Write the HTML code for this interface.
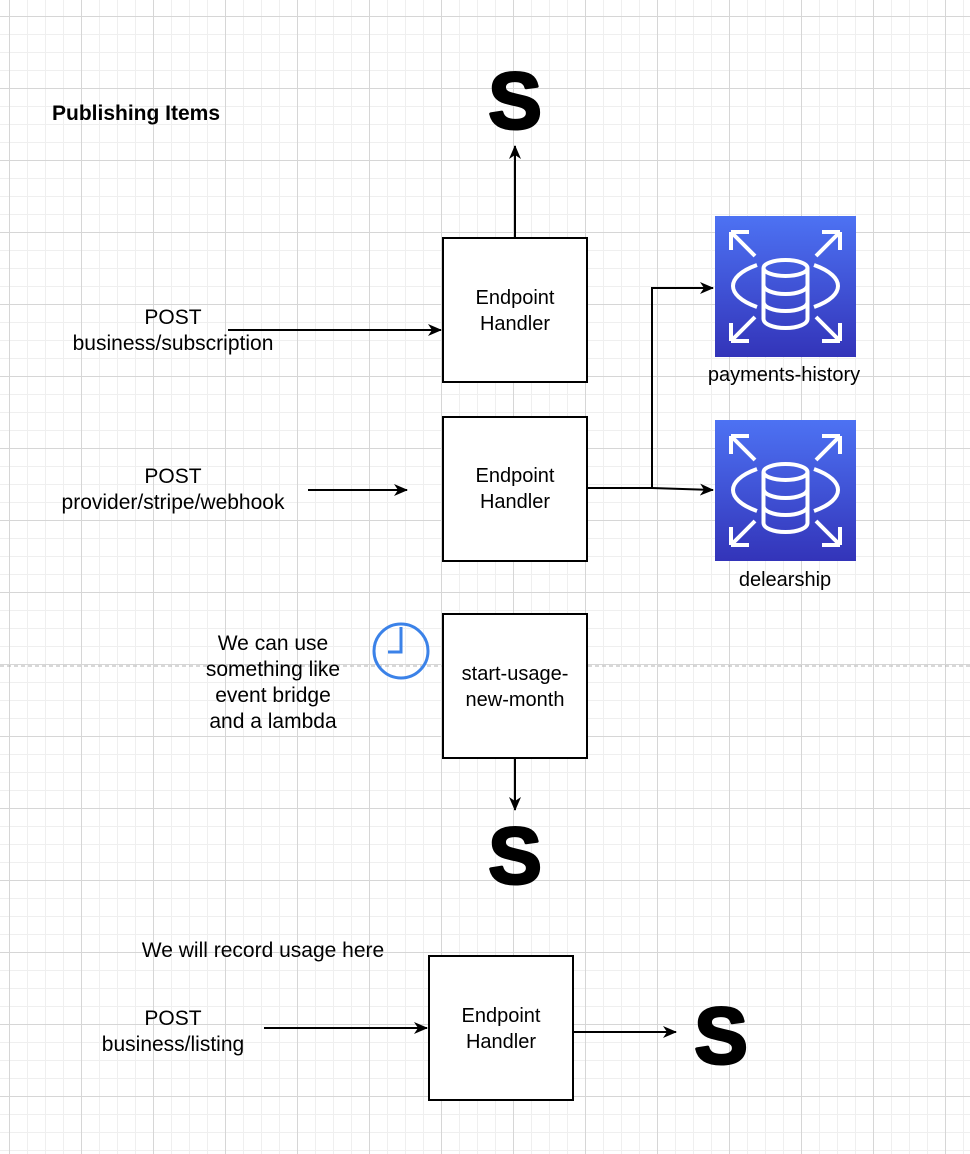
<!DOCTYPE html>
<html><head><meta charset="utf-8"><style>
html,body{margin:0;padding:0;background:#fff}
svg{display:block}
text{font-family:"Liberation Sans",Arial,sans-serif;fill:#000}
</style></head><body>
<svg width="970" height="1154" viewBox="0 0 970 1154" xmlns="http://www.w3.org/2000/svg">
<defs>
<pattern id="minor" x="9" y="16" width="18" height="18" patternUnits="userSpaceOnUse">
<path d="M0 0.5H18M0.5 0V18" stroke="#efefef" stroke-width="1" fill="none"/>
</pattern>
<pattern id="major" x="9" y="16" width="72" height="72" patternUnits="userSpaceOnUse">
<path d="M0 0.5H72M0.5 0V72" stroke="#d6d6d6" stroke-width="1" fill="none"/>
</pattern>
<linearGradient id="db" x1="0" y1="0" x2="0" y2="1">
<stop offset="0" stop-color="#4d72f3"/><stop offset="1" stop-color="#3334b9"/>
</linearGradient>
<marker id="ah" markerWidth="14" markerHeight="12" refX="13" refY="6" orient="auto" markerUnits="userSpaceOnUse">
<path d="M0 0L14 6L0 12L4 6Z" fill="#000"/>
</marker>
<g id="dbicon">
<rect width="141" height="141" fill="url(#db)"/>
<g stroke="#fff" stroke-width="4" fill="none" stroke-linecap="butt">
<path d="M16 16L40 40M16 16H34M16 16V34"/>
<path d="M125 16L101 40M125 16H107M125 16V34"/>
<path d="M16 125L40 101M16 125H34M16 125V107"/>
<path d="M125 125L101 101M125 125H107M125 125V107"/>
<path d="M42 49C25 55 18 63 18 70C18 77 25 85 42 91"/>
<path d="M99 49C116 55 123 63 123 70C123 77 116 85 99 91"/>
<ellipse cx="70.5" cy="52" rx="22" ry="8"/>
<path d="M48.5 52V103C48.5 108 58 112 70.5 112C83 112 92.5 108 92.5 103V52"/>
<path d="M48.5 69C48.5 74 58 78 70.5 78C83 78 92.5 74 92.5 69"/>
<path d="M48.5 86C48.5 91 58 95 70.5 95C83 95 92.5 91 92.5 86"/>
</g>
</g>
</defs>
<rect width="970" height="1154" fill="url(#minor)"/>
<rect width="970" height="1154" fill="url(#major)"/>
<line x1="0" y1="666" x2="970" y2="666" stroke="#b0b0b0" stroke-width="1" stroke-dasharray="4 3"/>

<text x="52" y="120" font-size="21" font-weight="bold">Publishing Items</text>

<!-- S logos -->
<g font-size="80" font-weight="bold" text-anchor="middle" stroke="#000" stroke-width="3" stroke-linejoin="round">
<text x="515" y="128">S</text>
<text x="515" y="883">S</text>
<text x="721" y="1063">S</text>
</g>

<!-- boxes -->
<g fill="#fff" stroke="#000" stroke-width="2">
<rect x="443" y="238" width="144" height="144"/>
<rect x="443" y="417" width="144" height="144"/>
<rect x="443" y="614" width="144" height="144"/>
<rect x="429" y="956" width="144" height="144"/>
</g>
<g font-size="20" text-anchor="middle">
<text x="515" y="304">Endpoint</text><text x="515" y="330">Handler</text>
<text x="515" y="482">Endpoint</text><text x="515" y="508">Handler</text>
<text x="515" y="680">start-usage-</text><text x="515" y="706">new-month</text>
<text x="501" y="1022">Endpoint</text><text x="501" y="1048">Handler</text>
<text x="784" y="381">payments-history</text>
<text x="785" y="586">delearship</text>
</g>
<g font-size="21" text-anchor="middle">
<text x="173" y="324">POST</text><text x="173" y="350">business/subscription</text>
<text x="173" y="483">POST</text><text x="173" y="509">provider/stripe/webhook</text>
<text x="273" y="650">We can use</text><text x="273" y="676">something like</text>
<text x="273" y="702">event bridge</text><text x="273" y="728">and a lambda</text>
<text x="263" y="957">We will record usage here</text>
<text x="173" y="1025">POST</text><text x="173" y="1051">business/listing</text>
</g>

<!-- arrows -->
<g stroke="#000" stroke-width="2" fill="none">
<line x1="515" y1="238" x2="515" y2="146" marker-end="url(#ah)"/>
<line x1="228" y1="330" x2="441" y2="330" marker-end="url(#ah)"/>
<line x1="308" y1="490" x2="407" y2="490" marker-end="url(#ah)"/>
<path d="M587 488H652V288H713" marker-end="url(#ah)"/>
<path d="M652 488L713 490" marker-end="url(#ah)"/>
<line x1="515" y1="758" x2="515" y2="810" marker-end="url(#ah)"/>
<line x1="264" y1="1028" x2="427" y2="1028" marker-end="url(#ah)"/>
<line x1="573" y1="1032" x2="676" y2="1032" marker-end="url(#ah)"/>
</g>

<use href="#dbicon" x="715" y="216"/>
<use href="#dbicon" x="715" y="420"/>

<!-- clock -->
<g stroke="#3b82e8" stroke-width="3" fill="none">
<circle cx="401" cy="651" r="27"/>
<path d="M401 627V652H388"/>
</g>
</svg>
</body></html>
